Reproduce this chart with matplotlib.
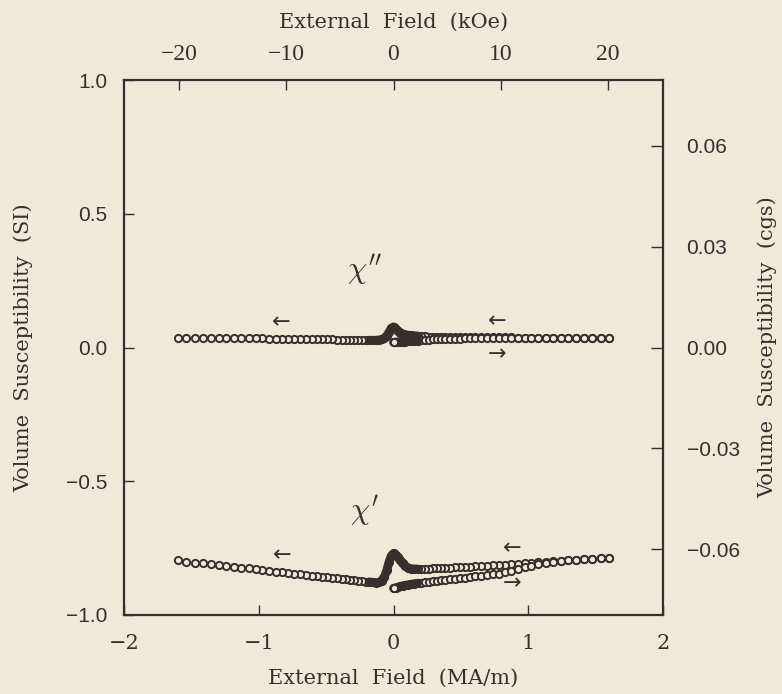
import numpy as np
import matplotlib
matplotlib.use("Agg")
import matplotlib.pyplot as plt
from matplotlib.ticker import FixedLocator, FixedFormatter

# field sweep 1.6 -> -1.6 MA/m (return branch)
H_ret = [1.600, 1.537, 1.475, 1.415, 1.355, 1.297, 1.240, 1.184, 1.130, 1.076,
         1.024, 0.973, 0.923, 0.875, 0.827, 0.781, 0.736, 0.692, 0.650, 0.608,
         0.568, 0.529, 0.491, 0.455, 0.419, 0.385, 0.352, 0.320, 0.290, 0.260,
         0.232, 0.205, 0.179, 0.155, 0.131, 0.109, 0.088, 0.068, 0.050, 0.032,
         0.016, 0.000,
         -0.016, -0.032, -0.050, -0.068, -0.088, -0.109, -0.131, -0.155, -0.179, -0.205,
         -0.232, -0.260, -0.290, -0.320, -0.352, -0.385, -0.419, -0.455, -0.491, -0.529,
         -0.568, -0.608, -0.650, -0.692, -0.736, -0.781, -0.827, -0.875, -0.923, -0.973,
         -1.024, -1.076, -1.130, -1.184, -1.240, -1.297, -1.355, -1.415, -1.475, -1.537,
         -1.600]
chi1_ret = [-0.787, -0.788, -0.790, -0.792, -0.793, -0.795, -0.797, -0.799, -0.801, -0.803,
            -0.805, -0.807, -0.809, -0.810, -0.812, -0.813, -0.814, -0.815, -0.816, -0.818,
            -0.819, -0.820, -0.821, -0.822, -0.823, -0.824, -0.825, -0.825, -0.826, -0.827,
            -0.827, -0.828, -0.828, -0.828, -0.827, -0.824, -0.817, -0.807, -0.796, -0.784,
            -0.775, -0.770,
            -0.778, -0.800, -0.833, -0.858, -0.872, -0.878, -0.879, -0.878, -0.876, -0.875,
            -0.873, -0.872, -0.870, -0.869, -0.867, -0.865, -0.863, -0.861, -0.859, -0.857,
            -0.855, -0.853, -0.850, -0.848, -0.846, -0.843, -0.841, -0.838, -0.835, -0.832,
            -0.829, -0.826, -0.823, -0.820, -0.817, -0.814, -0.811, -0.807, -0.804, -0.800,
            -0.796]
chi2_ret = [0.037, 0.037, 0.037, 0.037, 0.037, 0.037, 0.037, 0.037, 0.037, 0.037,
            0.037, 0.037, 0.037, 0.038, 0.038, 0.038, 0.038, 0.038, 0.038, 0.038,
            0.038, 0.039, 0.039, 0.039, 0.039, 0.040, 0.040, 0.040, 0.041, 0.041,
            0.042, 0.042, 0.043, 0.044, 0.045, 0.046, 0.048, 0.051, 0.056, 0.063,
            0.071, 0.077,
            0.072, 0.058, 0.044, 0.035, 0.030, 0.028, 0.027, 0.027, 0.027, 0.027,
            0.028, 0.028, 0.028, 0.028, 0.029, 0.029, 0.029, 0.030, 0.030, 0.030,
            0.031, 0.031, 0.031, 0.032, 0.032, 0.032, 0.033, 0.033, 0.033, 0.034,
            0.034, 0.034, 0.035, 0.035, 0.035, 0.035, 0.036, 0.036, 0.036, 0.037,
            0.037]

# virgin branch 0 -> 1.6 MA/m
H_up = [0.000, 0.016, 0.032, 0.050, 0.068, 0.088, 0.109, 0.131, 0.155, 0.179,
        0.205, 0.232, 0.260, 0.290, 0.320, 0.352, 0.385, 0.419, 0.455, 0.491,
        0.529, 0.568, 0.608, 0.650, 0.692, 0.736, 0.781, 0.827, 0.875, 0.923,
        0.973, 1.024, 1.076, 1.130, 1.184, 1.240, 1.297, 1.355, 1.415, 1.475,
        1.537, 1.600]
chi1_up = [-0.900, -0.898, -0.896, -0.893, -0.891, -0.889, -0.887, -0.885, -0.883, -0.881,
           -0.879, -0.877, -0.875, -0.873, -0.872, -0.870, -0.868, -0.866, -0.864, -0.862,
           -0.860, -0.858, -0.856, -0.854, -0.851, -0.848, -0.845, -0.840, -0.835, -0.829,
           -0.822, -0.815, -0.809, -0.804, -0.800, -0.797, -0.795, -0.793, -0.792, -0.790,
           -0.788, -0.787]
chi2_up = [0.019, 0.020, 0.021, 0.021, 0.022, 0.022, 0.023, 0.024, 0.025, 0.026,
           0.027, 0.028, 0.029, 0.030, 0.030, 0.031, 0.032, 0.032, 0.033, 0.033,
           0.034, 0.034, 0.034, 0.035, 0.035, 0.035, 0.036, 0.036, 0.036, 0.036,
           0.037, 0.037, 0.037, 0.037, 0.037, 0.037, 0.037, 0.037, 0.037, 0.037,
           0.037, 0.037]

bg = "#efead8"
ink = "#35302b"
serif = "DejaVu Serif"
sans = "Liberation Sans"
plt.rcParams["mathtext.fontset"] = "cm"

fig = plt.figure(figsize=(7.82, 6.94), dpi=100, facecolor=bg)
ax = fig.add_axes([124/782, 1 - 615/694, 539/782, 535/694], facecolor=bg)


def draw_branch(h, chi, first_marker=False):
    h = np.array(h)
    chi = np.array(chi)
    ax.plot(h, chi, ls="none", marker="o", ms=5.2, mew=1.4, mec=ink, mfc=bg, zorder=3)
    core = np.abs(h) < 0.2
    ax.plot(h[core], chi[core], color=ink, lw=6.3, solid_capstyle="round", zorder=4)
    if first_marker:
        ax.plot(h[:1], chi[:1], ls="none", marker="o", ms=5.2, mew=1.4, mec=ink, mfc=bg, zorder=5)


draw_branch(H_ret, chi1_ret)
draw_branch(H_up, chi1_up, first_marker=True)
draw_branch(H_ret, chi2_ret)
draw_branch(H_up, chi2_up, first_marker=True)

ax.set_xlim(-2, 2)
ax.set_ylim(-1, 1)
ax.set_xticks([-2, -1, 0, 1, 2])
ax.set_xticklabels(["\u22122", "\u22121", "0", "1", "2"], fontfamily=serif, fontsize=15)
ax.set_yticks([-1.0, -0.5, 0.0, 0.5, 1.0])
ax.set_yticklabels(["\u22121.0", "\u22120.5", "0.0", "0.5", "1.0"], fontfamily=sans, fontsize=15)
ax.tick_params(axis="x", direction="in", length=7, width=1, pad=14, colors=ink)
ax.tick_params(axis="y", direction="in", length=7, width=1, pad=12, colors=ink)
for s in ax.spines.values():
    s.set_linewidth(1.6)
    s.set_color(ink)

ax.set_xlabel("External  Field  (MA/m)", fontfamily=serif, fontsize=15, color=ink)
ax.xaxis.set_label_coords(0.5, -0.1)
ax.set_ylabel("Volume  Susceptibility  (SI)", fontfamily=serif, fontsize=15, color=ink)
ax.yaxis.set_label_coords(-0.169, 0.5)

# top axis in kOe
top = ax.secondary_xaxis("top", functions=(lambda x: x * 4 * np.pi, lambda k: k / (4 * np.pi)))
top.xaxis.set_major_locator(FixedLocator([-20, -10, 0, 10, 20]))
top.xaxis.set_major_formatter(FixedFormatter(["\u221220", "\u221210", "0", "10", "20"]))
top.tick_params(direction="in", length=7, width=1, pad=11, colors=ink, labelsize=17)
for lab in top.get_xticklabels():
    lab.set_fontfamily("Liberation Serif")
top.spines["top"].set_visible(False)
ax.text(0.5, 1.108, "External  Field  (kOe)", transform=ax.transAxes, ha="center", va="center",
        fontfamily=serif, fontsize=15, color=ink)

# right axis in cgs
right = ax.secondary_yaxis("right", functions=(lambda y: y / (4 * np.pi), lambda c: c * 4 * np.pi))
right.yaxis.set_major_locator(FixedLocator([-0.06, -0.03, 0.0, 0.03, 0.06]))
right.yaxis.set_major_formatter(FixedFormatter(["\u22120.06", "\u22120.03", "0.00", "0.03", "0.06"]))
right.tick_params(direction="in", length=9, width=1, pad=17, colors=ink, labelsize=15)
for lab in right.get_yticklabels():
    lab.set_fontfamily(sans)
right.spines["right"].set_visible(False)
ax.text(1.193, 0.5, "Volume  Susceptibility  (cgs)", transform=ax.transAxes, rotation=90,
        ha="center", va="center", fontfamily=serif, fontsize=15, color=ink)

# curve labels and sweep arrows
ax.text(-0.215, 0.29, r"$\chi^{\prime\prime}$", fontsize=22, ha="center", va="center", color=ink)
ax.text(-0.215, -0.61, r"$\chi^{\prime}$", fontsize=22, ha="center", va="center", color=ink)
arrows = [(-0.83, 0.093, "\u2190"), (0.77, 0.097, "\u2190"), (0.77, -0.026, "\u2192"),
          (-0.825, -0.776, "\u2190"), (0.88, -0.75, "\u2190"), (0.88, -0.88, "\u2192")]
for x, y, a in arrows:
    ax.text(x, y, a, fontsize=16, ha="center", va="center", color=ink, fontfamily="DejaVu Sans")

fig.savefig("out.png", dpi=100, facecolor=bg)
